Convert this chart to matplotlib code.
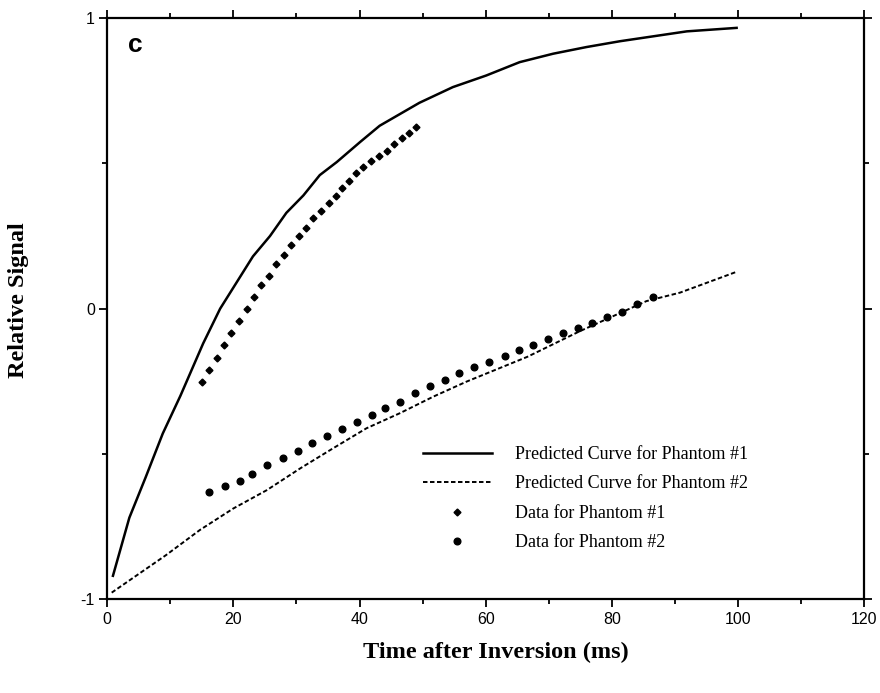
import matplotlib
matplotlib.use('Agg')
import matplotlib.pyplot as plt
from matplotlib.ticker import MultipleLocator, FixedLocator

plt.rcParams['axes.unicode_minus'] = False

# Predicted curve, phantom #1
t_pred1 = [0.9, 3.5, 6.1, 8.8, 11.6, 15.2, 17.9, 20.5, 23.1, 25.8, 28.4, 31.1,
           33.7, 36.4, 40.1, 43.2, 49.5, 54.8, 60.1, 65.4, 70.7, 76.0, 81.3,
           86.6, 91.9, 99.8]
y_pred1 = [-0.92, -0.72, -0.58, -0.43, -0.30, -0.12, 0.00, 0.09, 0.18, 0.25,
           0.33, 0.39, 0.46, 0.505, 0.574, 0.63, 0.709, 0.763, 0.803, 0.849,
           0.878, 0.901, 0.921, 0.938, 0.955, 0.967]

# Predicted curve, phantom #2
t_pred2 = [0.7, 9.3, 14.7, 20.0, 25.3, 30.6, 35.8, 41.1, 46.4, 51.7, 57.0,
           66.6, 74.9, 85.5, 90.8, 99.8]
y_pred2 = [-0.978, -0.849, -0.762, -0.688, -0.625, -0.55, -0.481, -0.412,
           -0.36, -0.303, -0.251, -0.166, -0.078, 0.026, 0.055, 0.127]

# Data, phantom #1
t_data1 = [15.1, 16.2, 17.4, 18.5, 19.7, 20.9, 22.1, 23.3, 24.4, 25.6, 26.8,
           28.0, 29.2, 30.4, 31.5, 32.7, 33.9, 35.1, 36.3, 37.2, 38.3, 39.5,
           40.6, 41.9, 43.1, 44.3, 45.4, 46.7, 47.8, 49.0]
y_data1 = [-0.254, -0.211, -0.169, -0.125, -0.085, -0.044, -0.001, 0.040,
           0.080, 0.113, 0.153, 0.186, 0.218, 0.250, 0.279, 0.312, 0.338,
           0.363, 0.389, 0.415, 0.440, 0.467, 0.488, 0.507, 0.527, 0.544,
           0.567, 0.587, 0.605, 0.625]

# Data, phantom #2
t_data2 = [16.1, 18.6, 21.0, 23.0, 25.4, 27.8, 30.2, 32.5, 34.9, 37.3, 39.6,
           42.0, 44.0, 46.4, 48.8, 51.1, 53.5, 55.8, 58.2, 60.6, 63.0, 65.3,
           67.5, 69.9, 72.2, 74.6, 76.9, 79.3, 81.7, 84.0, 86.5]
y_data2 = [-0.630, -0.612, -0.593, -0.569, -0.540, -0.514, -0.489, -0.463,
           -0.437, -0.413, -0.391, -0.366, -0.341, -0.320, -0.292, -0.268,
           -0.247, -0.220, -0.200, -0.185, -0.162, -0.144, -0.125, -0.103,
           -0.084, -0.065, -0.048, -0.030, -0.011, 0.015, 0.040]

labels = ['Predicted Curve for Phantom #1', 'Predicted Curve for Phantom #2',
          'Data for Phantom #1', 'Data for Phantom #2']
x_ticks = [0, 20, 40, 60, 80, 100, 120]
y_ticks = [-1, 0, 1]

fig = plt.figure(figsize=(8.8, 6.93), dpi=100)
ax = fig.add_axes([0.1219, 0.1356, 0.8599, 0.838])

ax.plot(t_pred1, y_pred1, color='black', lw=1.8, label=labels[0])
ax.plot(t_pred2, y_pred2, color='black', lw=1.4, ls=(0, (2.3, 1.3)), label=labels[1])
ax.plot(t_data1, y_data1, ls='none', marker='D', ms=3.5, color='black', label=labels[2])
ax.plot(t_data2, y_data2, ls='none', marker='o', ms=4.8, color='black', label=labels[3])

ax.set_xlim(0, 120)
ax.set_ylim(-1, 1)
ax.xaxis.set_major_locator(FixedLocator(x_ticks))
ax.xaxis.set_minor_locator(MultipleLocator(10))
ax.yaxis.set_major_locator(FixedLocator(y_ticks))
ax.yaxis.set_minor_locator(FixedLocator([-0.5, 0.5]))
ax.set_xticklabels([str(v) for v in x_ticks], fontfamily='Liberation Sans', fontsize=11.5)
ax.set_yticklabels([str(v) for v in y_ticks], fontfamily='Liberation Sans', fontsize=11.5)

ax.tick_params(which='both', direction='out', top=True, right=True,
               labeltop=False, labelright=False, width=1.3, color='black')
ax.tick_params(which='major', length=6)
ax.tick_params(which='minor', length=3.5)
ax.tick_params(axis='x', pad=3.5)
ax.tick_params(axis='y', pad=3)
for sp in ax.spines.values():
    sp.set_linewidth(1.6)

fig.text(0.5636, 1 - 652 / 693, 'Time after Inversion (ms)', ha='center', va='center',
         fontfamily='Liberation Serif', fontweight='bold', fontsize=17.5)
fig.text(18.5 / 880, 1 - 300 / 693, 'Relative Signal', ha='center', va='center',
         rotation=90, fontfamily='Liberation Serif', fontweight='bold', fontsize=17.5)

ax.text(135 / 880, 1 - 45 / 693, 'c', transform=fig.transFigure, ha='center', va='center',
        fontfamily='Liberation Sans', fontweight='bold', fontsize=19)

leg = ax.legend(loc='upper left', bbox_to_anchor=(423 / 880, 1 - 446 / 693),
                bbox_transform=fig.transFigure, frameon=False, numpoints=1,
                handlelength=3.82, handletextpad=1.27, labelspacing=0.69,
                borderpad=0, borderaxespad=0,
                prop={'family': 'Liberation Serif', 'size': 13})

fig.savefig('out.png', dpi=100)
